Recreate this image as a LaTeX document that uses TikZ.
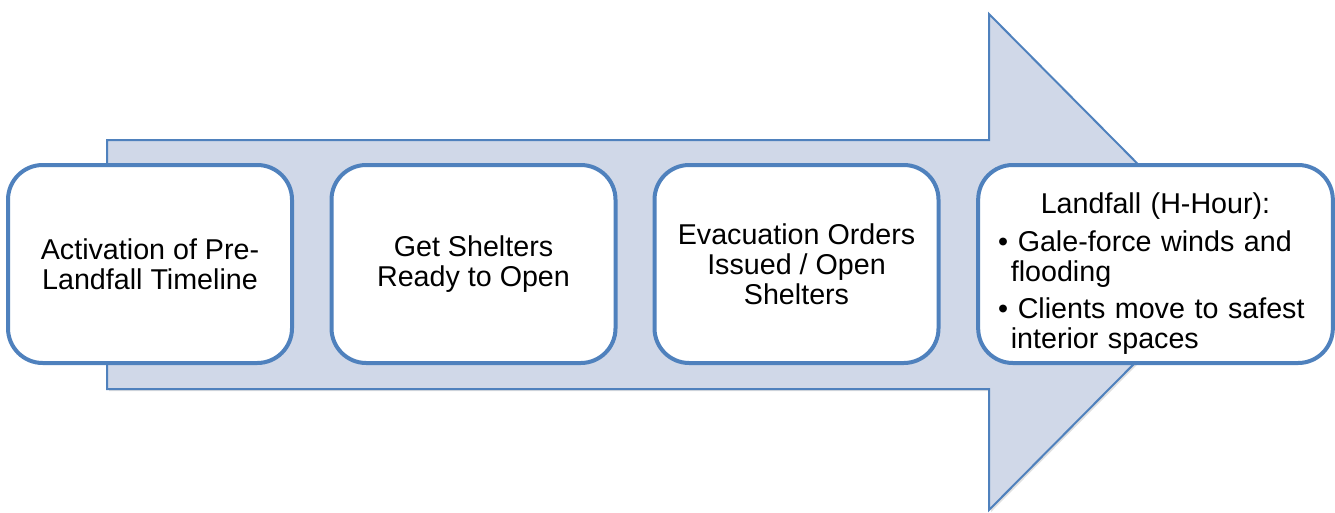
\documentclass[tikz,border=0pt]{standalone}
\usepackage{fontspec}
\setmainfont{Liberation Sans}
\usetikzlibrary{shadows}
\definecolor{stageblue}{HTML}{4F81BD}
\definecolor{arrowfill}{HTML}{D0D8E8}

\begin{document}
\begin{tikzpicture}[x=0.75pt, y=0.75pt]
    % Стилі
    \tikzstyle{stage}=[draw=stageblue, line width=3pt, fill=white, rounded corners=26pt, minimum width=213pt, minimum height=148.5pt, align=center, font=\fontsize{21.5}{22.5}\selectfont]
    \tikzstyle{bigarrow}=[draw=stageblue, line width=1.5pt, fill=arrowfill, drop shadow={shadow xshift=1.5pt, shadow yshift=-1.5pt, opacity=0.25}]

    \useasboundingbox (0,0) rectangle (1335,512);

    % Велика стрілка
    \draw[bigarrow] (107,372) -- (989,372) -- (989,498) -- (1235,250) -- (989,2) -- (989,123) -- (107,123) -- cycle;

    % Етапи
    \node[stage] (s1) at (150,248) {Activation of Pre-\\Landfall Timeline};
    \node[stage] (s2) at (473.5,248) {Get Shelters\\Ready to Open};
    \node[stage] (s3) at (796.5,248) {Evacuation Orders\\Issued / Open\\Shelters};
    \node[stage, minimum width=266pt, text width=236pt, align=left] (s4) at (1155.5,248) {\centering\rule{0pt}{30pt}Landfall (H-Hour):\par\vspace{6pt}\raggedright
        • Gale-force winds and\\\hspace*{9.5pt}flooding\par\vspace{5pt}
        • Clients move to safest\\\hspace*{9.5pt}interior spaces};
\end{tikzpicture}
\end{document}
